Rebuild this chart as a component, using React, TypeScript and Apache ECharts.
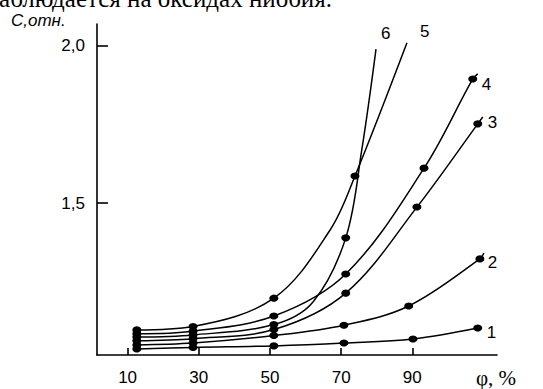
import React, { useEffect, useRef } from "react";
import * as echarts from "echarts";

// x tick values and labels
const xTicks = [10, 30, 50, 70, 90];
const yTicks = [1.5, 2.0];
const seriesNames = ["1", "2", "3", "4", "5", "6"];

// measured points (marked with dots)
const c1 = [[12.6, 1.035], [28.4, 1.04], [51.1, 1.045], [70.8, 1.054], [90.2, 1.067], [108.4, 1.102]];
const c2 = [[12.6, 1.048], [28.4, 1.054], [51.1, 1.078], [70.8, 1.111], [89.0, 1.172], [109.0, 1.322]];
const c3 = [[12.6, 1.061], [28.4, 1.068], [51.1, 1.097], [71.3, 1.213], [91.3, 1.487], [108.4, 1.752]];
const c4 = [[12.6, 1.084], [28.4, 1.092], [51.1, 1.14], [71.3, 1.274], [93.3, 1.611], [107.0, 1.895]];
const c5 = [[12.6, 1.096], [28.4, 1.107], [51.1, 1.197], [73.9, 1.586]];
const c6 = [[12.6, 1.073], [28.4, 1.08], [51.1, 1.113], [71.3, 1.389]];

// points (no dot)
const c1Curve: number[][] = [];
const c2Curve = [[110.1, 1.341]];
const c3Curve = [[109.8, 1.774]];
const c4Curve = [[108.4, 1.911]];
const c5Curve = [[66.9, 1.414], [88.5, 2.01]];
const c6Curve = [[62.1, 1.185], [75.8, 1.669], [79.8, 1.99]];

const marked = [c1, c2, c3, c4, c5, c6];
const curves = [c1Curve, c2Curve, c3Curve, c4Curve, c5Curve, c6Curve];
const labelOffsets = [[9, 5], [4, 10], [5, 6], [4, 11], [13, -11], [5, -16]];

const FONT = "'Liberation Sans', Arial, sans-serif";

export default function App() {
  const ref = useRef<HTMLDivElement>(null);
  useEffect(() => {
    if (!ref.current) return;
    const chart = echarts.init(ref.current, null, { renderer: "svg" });
    const series = seriesNames.map((name, i) => {
      const pts = [
        ...marked[i].map((p) => ({ value: p })),
        ...curves[i].map((p) => ({ value: p, symbol: "none" })),
      ].sort((a, b) => a.value[0] - b.value[0]);
      return {
        name,
        type: "line",
        data: pts,
        smooth: 0.35,
        symbol: "circle",
        symbolSize: [9, 7],
        showAllSymbol: true,
        itemStyle: { color: "#000" },
        lineStyle: { color: "#000", width: 1.5 },
        endLabel: {
          show: true,
          formatter: name,
          distance: 0,
          offset: labelOffsets[i],
          color: "#000",
          fontFamily: FONT,
          fontSize: 17,
        },
      };
    });
    chart.setOption({
      animation: false,
      backgroundColor: "#fff",
      grid: { left: 97, right: 46, top: 24, bottom: 34, containLabel: false },
      xAxis: {
        type: "value",
        min: 1.4,
        max: 113.8,
        axisLine: { lineStyle: { color: "#000", width: 1.6 } },
        axisTick: { inside: true, length: 7, customValues: xTicks, lineStyle: { color: "#000", width: 1.6 } },
        axisLabel: { customValues: xTicks, color: "#000", fontFamily: FONT, fontSize: 17, margin: 14 },
        splitLine: { show: false },
      },
      yAxis: {
        type: "value",
        min: 1.016,
        max: 2.07,
        axisLine: { show: true, lineStyle: { color: "#000", width: 1.6 } },
        axisTick: { show: true, inside: true, length: 11, customValues: yTicks, lineStyle: { color: "#000", width: 1.6 } },
        axisLabel: {
          customValues: yTicks,
          color: "#000",
          fontFamily: FONT,
          fontSize: 17,
          margin: 12,
          formatter: (v: number) => v.toFixed(1).replace(".", ","),
        },
        splitLine: { show: false },
      },
      graphic: [
        {
          type: "text",
          left: 11,
          top: 12,
          style: { text: "С,отн.", font: `italic 17px ${FONT}`, fill: "#000" },
        },
        {
          type: "text",
          x: 476,
          y: 367,
          style: { text: "φ, %", font: `21px 'Liberation Serif', serif`, fill: "#000" },
        },
        {
          type: "text",
          x: 332,
          y: 11,
          style: {
            text: "наблюдается на оксидах ниобия.",
            font: `25px 'Liberation Serif', serif`,
            fill: "#000",
            align: "right",
            verticalAlign: "bottom",
          },
        },
      ],
      series,
    });
    return () => chart.dispose();
  }, []);
  return <div ref={ref} style={{ position: "fixed", left: 0, top: 0, width: 543, height: 389 }} />;
}
